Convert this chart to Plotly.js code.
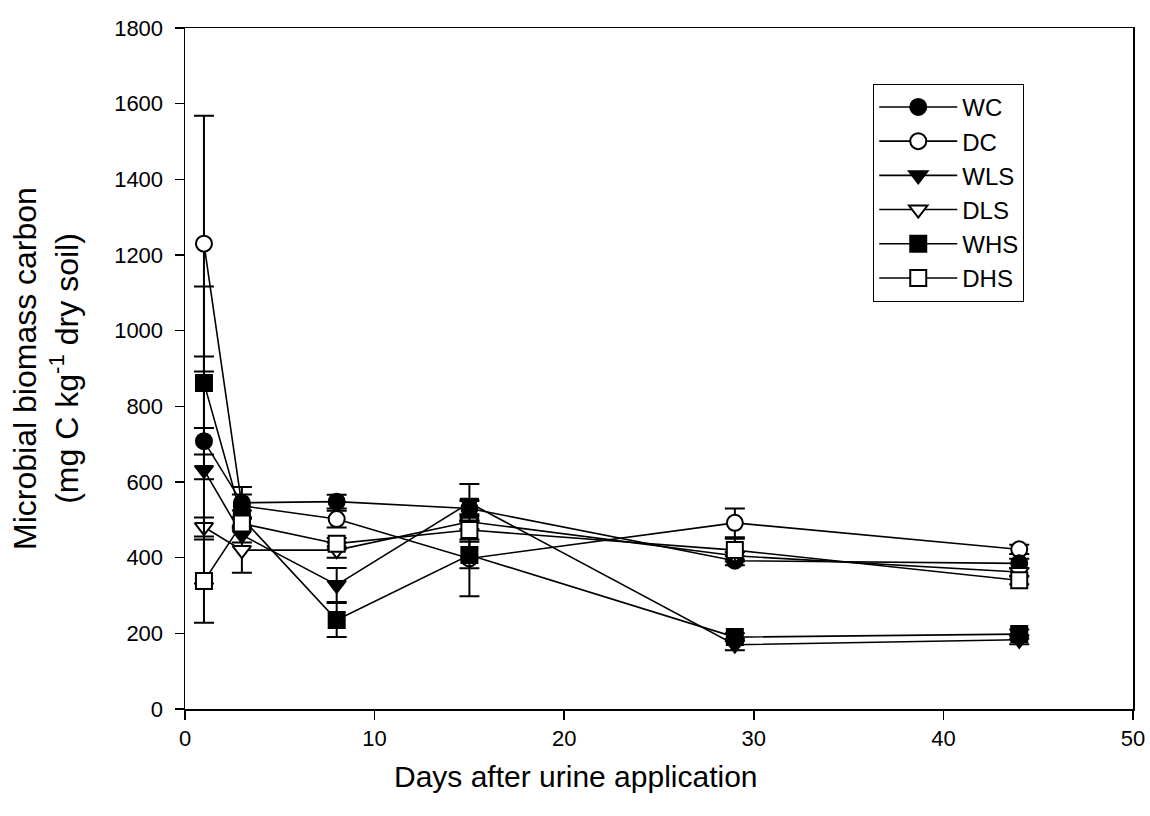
<!DOCTYPE html>
<html>
<head>
<meta charset="utf-8">
<script src="https://cdn.plot.ly/plotly-3.0.1.min.js"></script>
<style>html,body{margin:0;padding:0;background:#fff;}#chart{width:1150px;height:816px;}</style>
</head>
<body>
<div id="chart"></div>
<script>
const days = [1, 3, 8, 15, 29, 44];

const WC = [708, 545, 548, 530, 392, 385];
const WC_err = [35, 42, 18, 20, 12, 12];
const DC = [1230, 537, 502, 398, 492, 422];
const DC_err = [338, 30, 22, 100, 38, 12];
const WLS = [632, 460, 328, 545, 170, 183];
const WLS_err = [300, 20, 45, 50, 15, 12];
const DLS = [481, 420, 420, 495, 405, 362];
const DLS_err = [25, 60, 20, 20, 10, 10];
const WHS = [862, 505, 235, 407, 190, 198];
const WHS_err = [255, 20, 45, 35, 10, 12];
const DHS = [338, 490, 437, 473, 420, 340];
const DHS_err = [110, 15, 15, 25, 30, 10];

const xTickVals = [0, 10, 20, 30, 40, 50];
const yTickVals = [0, 200, 400, 600, 800, 1000, 1200, 1400, 1600, 1800];

function series(name, y, err, symbol, fill, rank) {
  return {
    type: 'scatter', mode: 'lines+markers', name: name, x: days, y: y,
    legendrank: rank,
    line: {color: '#000', width: 1.6},
    marker: {symbol: symbol, size: 16, color: fill, line: {color: '#000', width: 2}},
    error_y: {type: 'data', array: err, visible: true, color: '#000', thickness: 2, width: 10}
  };
}

const traces = [
  series('DC', DC, DC_err, 'circle', '#fff', 2),
  series('WC', WC, WC_err, 'circle', '#000', 1),
  series('DLS', DLS, DLS_err, 'triangle-down', '#fff', 4),
  series('WLS', WLS, WLS_err, 'triangle-down', '#000', 3),
  series('WHS', WHS, WHS_err, 'square', '#000', 5),
  series('DHS', DHS, DHS_err, 'square', '#fff', 6)
];

const font = 'Liberation Sans, Arial, sans-serif';

const layout = {
  width: 1150, height: 816,
  margin: {l: 185, r: 17, t: 28, b: 107},
  paper_bgcolor: '#fff', plot_bgcolor: '#fff',
  font: {family: font, color: '#000', size: 22},
  showlegend: true,
  legend: {
    x: 0.726, y: 0.918, xanchor: 'left', yanchor: 'top',
    bgcolor: '#fff', bordercolor: '#000', borderwidth: 1,
    font: {family: font, size: 24, color: '#000'},
    itemwidth: 78, tracegroupgap: 0,
    entrywidth: 165, entrywidthmode: 'pixels'
  },
  xaxis: {
    range: [0, 50], tickvals: xTickVals, ticks: 'outside', ticklen: 9, tickwidth: 1.5,
    tickcolor: '#000', showline: true, linecolor: '#000', linewidth: 1.5, mirror: true,
    showgrid: false, zeroline: false, tickfont: {size: 22}
  },
  yaxis: {
    range: [0, 1800], tickvals: yTickVals, ticks: 'outside', ticklen: 9, tickwidth: 1.5,
    tickcolor: '#000', showline: true, linecolor: '#000', linewidth: 1.5, mirror: true,
    showgrid: false, zeroline: false, tickfont: {size: 22}, ticklabelstandoff: 7,
    title: {text: 'Microbial biomass carbon<br>(mg C kg<sup>-1</sup> dry soil)', font: {size: 32}, standoff: 26}
  },
  annotations: [{
    text: 'Days after urine application', xref: 'paper', yref: 'paper',
    x: 0.4125, y: -0.0985, xanchor: 'center', yanchor: 'middle', showarrow: false,
    font: {family: font, size: 30, color: '#000'}
  }]
};

Plotly.newPlot('chart', traces, layout, {displayModeBar: false, staticPlot: true});
</script>
</body>
</html>
